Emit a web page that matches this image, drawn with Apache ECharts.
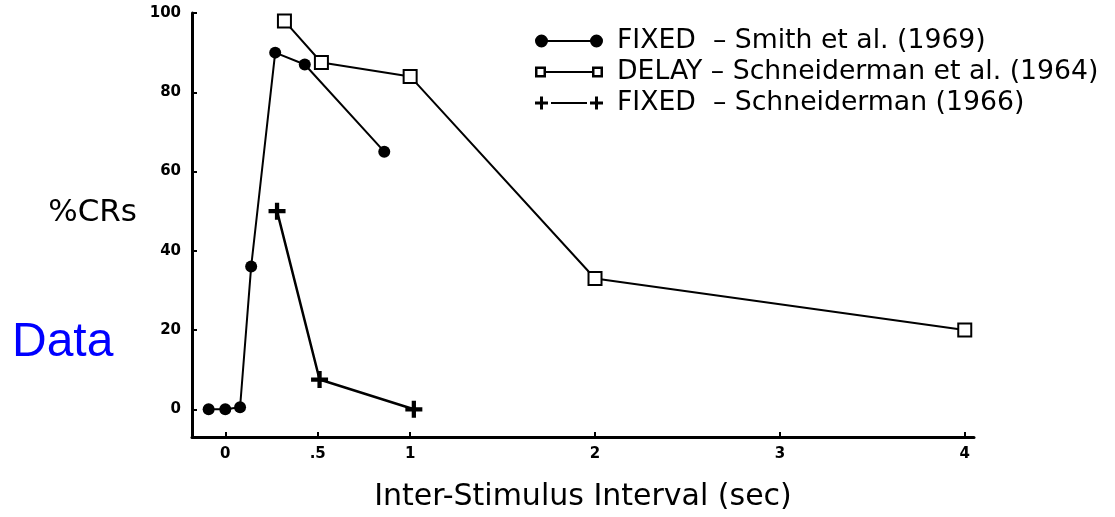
<!DOCTYPE html>
<html>
<head>
<meta charset="utf-8">
<script src="https://cdn.jsdelivr.net/npm/echarts@6/dist/echarts.min.js"></script>
<style>
  html, body { margin: 0; padding: 0; background: #fff; }
  #chart { width: 1115px; height: 517px; }
</style>
</head>
<body>
<div id="chart"></div>
<script>
// values (x = ISI in sec, y = %CRs)
var smithX = [-0.09, 0, 0.08, 0.14, 0.27, 0.43, 0.86];
var smithY = [0, 0, 0.5, 36, 90, 87, 65];
var delayX = [0.32, 0.52, 1, 2, 4];
var delayY = [98, 87.5, 84, 33, 20];
var fixedX = [0.28, 0.51, 1.02];
var fixedY = [50, 7.5, 0];

var xTicks = [0, 0.5, 1, 2, 3, 4];
var yTicks = [0, 20, 40, 60, 80, 100];

var seriesNames = [
  'FIXED  \u2013 Smith et al. (1969)',
  'DELAY \u2013 Schneiderman et al. (1964)',
  'FIXED  \u2013 Schneiderman (1966)'
];

function pairs(xs, ys) {
  return xs.map(function (x, i) { return [x, ys[i]]; });
}

var FONT = 'DejaVu Sans';
var plusPath = 'path://M6,0 H10 V6 H16 V10 H10 V16 H6 V10 H0 V6 H6 Z';

// legend icons: marker - line - marker
var iconDot = 'path://M0,6.5 A6.5,6.5 0 1,1 13,6.5 A6.5,6.5 0 1,1 0,6.5 Z M10,5.5 H58 V7.5 H10 Z M55,6.5 A6.5,6.5 0 1,1 68,6.5 A6.5,6.5 0 1,1 55,6.5 Z';
var iconBox = 'path://M0,1 H11 V12 H0 Z M2.5,3.5 V9.5 H8.5 V3.5 Z M11,5.5 H57 V7.5 H11 Z M57,1 H68 V12 H57 Z M59.5,3.5 V9.5 H65.5 V3.5 Z';
var iconPlus = 'path://M5,0 H8 V5 H13 V8 H8 V13 H5 V8 H0 V5 H5 Z M16,5.5 H52 V7.5 H16 Z M60,0 H63 V5 H68 V8 H63 V13 H60 V8 H55 V5 H60 Z';

var chart = echarts.init(document.getElementById('chart'));
chart.setOption({
  backgroundColor: '#fff',
  animation: false,
  title: {
    text: 'Data',
    left: 7,
    top: 314,
    textStyle: { color: '#0000ff', fontSize: 48, fontWeight: 'normal', fontFamily: 'Liberation Sans' }
  },
  legend: {
    orient: 'vertical',
    left: 530,
    top: 21,
    itemWidth: 68,
    itemHeight: 13,
    itemGap: 1,
    itemStyle: { color: '#000', borderWidth: 0 },
    textStyle: { fontFamily: FONT, fontSize: 26.7, lineHeight: 30, color: '#000', padding: [0, 0, 0, 9] },
    data: [
      { name: seriesNames[0], icon: iconDot },
      { name: seriesNames[1], icon: iconBox },
      { name: seriesNames[2], icon: iconPlus }
    ]
  },
  grid: { left: 192, right: 141, top: 13, bottom: 80, outerBoundsMode: 'none' },
  xAxis: {
    type: 'value',
    min: -0.18,
    max: 4.05,
    name: 'Inter-Stimulus Interval (sec)',
    nameLocation: 'middle',
    nameGap: 45,
    nameTextStyle: { fontFamily: FONT, fontSize: 30, color: '#000' },
    axisLine: { onZero: false, lineStyle: { color: '#000', width: 3 } },
    axisTick: { inside: true, length: 5, lineStyle: { color: '#000', width: 2 }, customValues: xTicks },
    axisLabel: {
      customValues: xTicks,
      fontFamily: FONT, fontSize: 15, fontWeight: 'bold', color: '#000', margin: 10,
      formatter: function (v) { return v === 0.5 ? '.5' : String(v); }
    },
    splitLine: { show: false }
  },
  yAxis: {
    type: 'value',
    min: -7,
    max: 100,
    name: '%CRs',
    nameLocation: 'middle',
    nameRotate: 0,
    nameGap: 55,
    nameTextStyle: { fontFamily: FONT, fontSize: 31, color: '#000', verticalAlign: 'bottom', lineHeight: 24 },
    axisLine: { onZero: false, lineStyle: { color: '#000', width: 3 } },
    axisTick: { inside: true, length: 5, lineStyle: { color: '#000', width: 2 }, customValues: yTicks },
    axisLabel: { customValues: yTicks, fontFamily: FONT, fontSize: 15, fontWeight: 'bold', color: '#000', margin: 11 },
    splitLine: { show: false }
  },
  series: [
    {
      name: seriesNames[0],
      type: 'line',
      data: pairs(smithX, smithY),
      symbol: 'circle',
      symbolSize: 12,
      lineStyle: { color: '#000', width: 2 },
      itemStyle: { color: '#000' }
    },
    {
      name: seriesNames[1],
      type: 'line',
      data: pairs(delayX, delayY),
      symbol: 'emptyRect',
      symbolSize: 13,
      lineStyle: { color: '#000', width: 2 },
      itemStyle: { color: '#000', borderWidth: 2.5 }
    },
    {
      name: seriesNames[2],
      type: 'line',
      data: pairs(fixedX, fixedY),
      symbol: plusPath,
      symbolSize: 17,
      lineStyle: { color: '#000', width: 2.5 },
      itemStyle: { color: '#000' }
    }
  ]
});
</script>
</body>
</html>
